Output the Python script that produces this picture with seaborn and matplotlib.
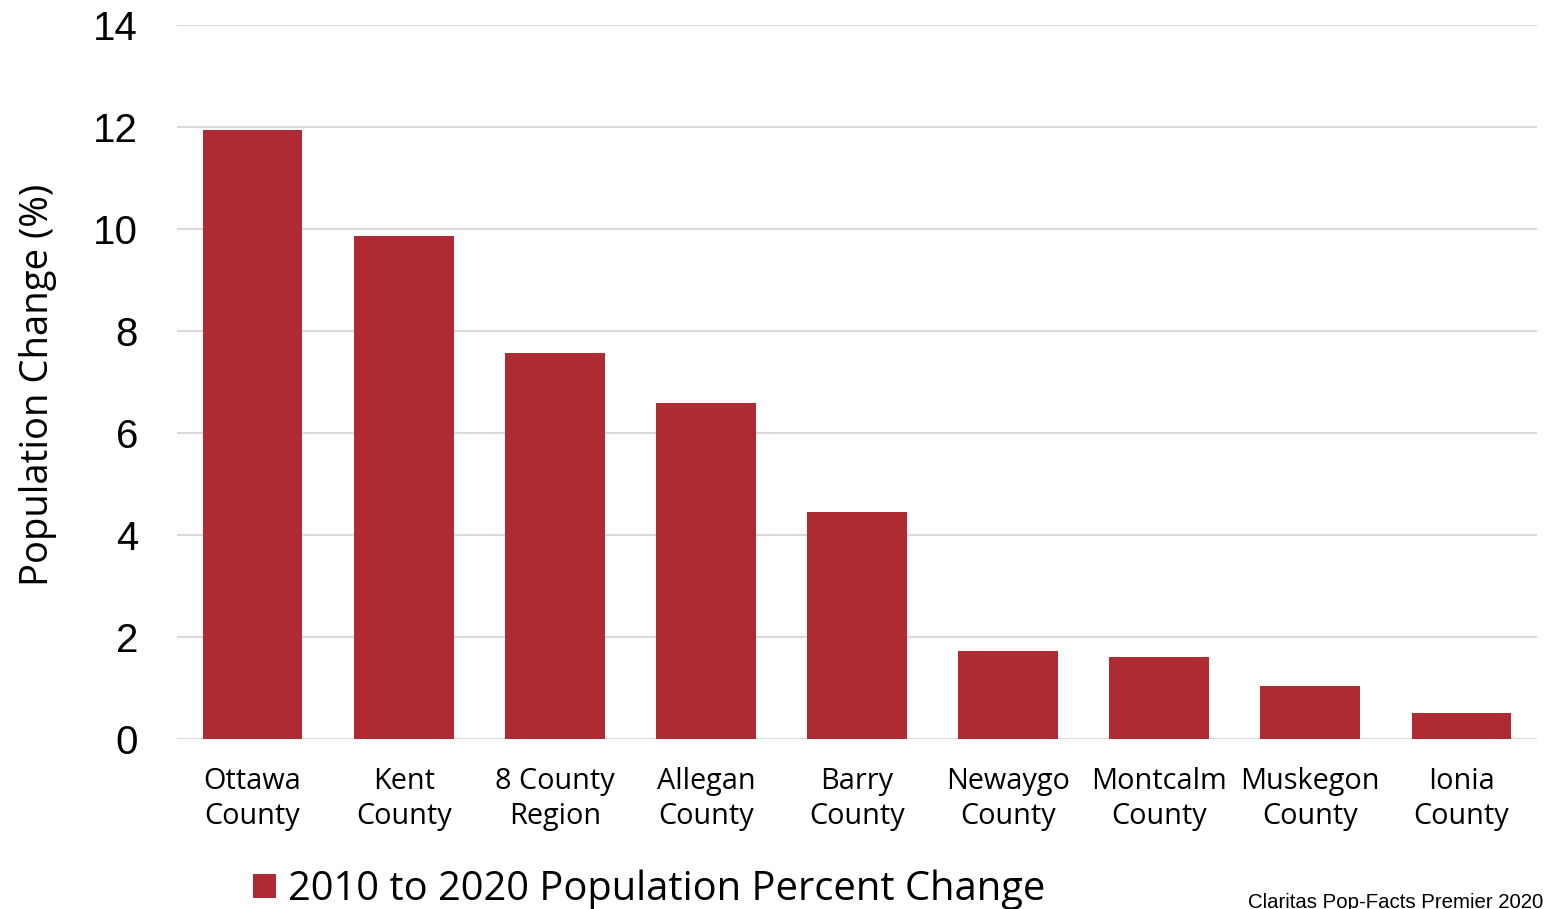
import matplotlib
matplotlib.use("Agg")
import matplotlib.pyplot as plt
import seaborn as sns
import pandas as pd
from matplotlib.patches import Patch

categories = ["Ottawa\nCounty", "Kent\nCounty", "8 County\nRegion", "Allegan\nCounty",
              "Barry\nCounty", "Newaygo\nCounty", "Montcalm\nCounty", "Muskegon\nCounty",
              "Ionia\nCounty"]
values = [11.94, 9.86, 7.57, 6.59, 4.45, 1.73, 1.61, 1.04, 0.51]
yticks = [0, 2, 4, 6, 8, 10, 12, 14]
series_name = "2010 to 2020 Population Percent Change"

sns.set_theme(style="white")
plt.rcParams['font.family'] = ['Liberation Sans', 'DejaVu Sans']

df = pd.DataFrame({"cat": categories, "val": values})
bar_color = "#AE2B33"

fig = plt.figure(figsize=(15.5, 9.09), dpi=100)
ax = fig.add_axes([177/1550, 1-739/909, (1537-177)/1550, (739-25)/909])
sns.barplot(data=df, x="cat", y="val", color=bar_color, width=0.66, ax=ax,
            saturation=1, edgecolor="none")
ax.set_xlim(-0.5, 8.5)
ax.set_ylim(0, 14)
ax.set_yticks(yticks)
ax.set_yticklabels([str(t) for t in yticks], fontsize=29, color="black")
ax.tick_params(axis="y", length=0, pad=28)
ax.tick_params(axis="x", length=0, pad=20)
for lab in ax.get_xticklabels():
    lab.set_fontfamily(["Open Sans", "DejaVu Sans"])
    lab.set_fontsize(20.8)
    lab.set_linespacing(1.3)
    lab.set_color("black")
ax.grid(axis="y", color="#d9d9d9", linewidth=1.5)
ax.set_axisbelow(True)
for s in ax.spines.values():
    s.set_visible(False)
ax.set_xlabel("")
ax.set_ylabel("Population Change (%)", fontsize=27.5, family=["Open Sans", "DejaVu Sans"],
              color="black")
ax.yaxis.label.set_verticalalignment("center")
ax.yaxis.set_label_coords((38-177)/1360, (739-385)/714)

handle = Patch(facecolor=bar_color, edgecolor="none")
leg = fig.legend([handle], [series_name], loc="center left", bbox_to_anchor=(253/1550, 1-890/909),
           frameon=False, prop={"family": ["Open Sans", "DejaVu Sans"], "size": 28.7},
           handlelength=0.57, handleheight=0.57, handletextpad=0.3, borderpad=0, borderaxespad=0)
for t in leg.get_texts():
    t.set_color("black")

fig.text(1543/1550, 1-902/909, "Claritas Pop-Facts Premier 2020", ha="right", va="center",
         fontsize=14.7, family=["Liberation Sans", "DejaVu Sans"], color="black")

fig.savefig("out.png", dpi=100)
